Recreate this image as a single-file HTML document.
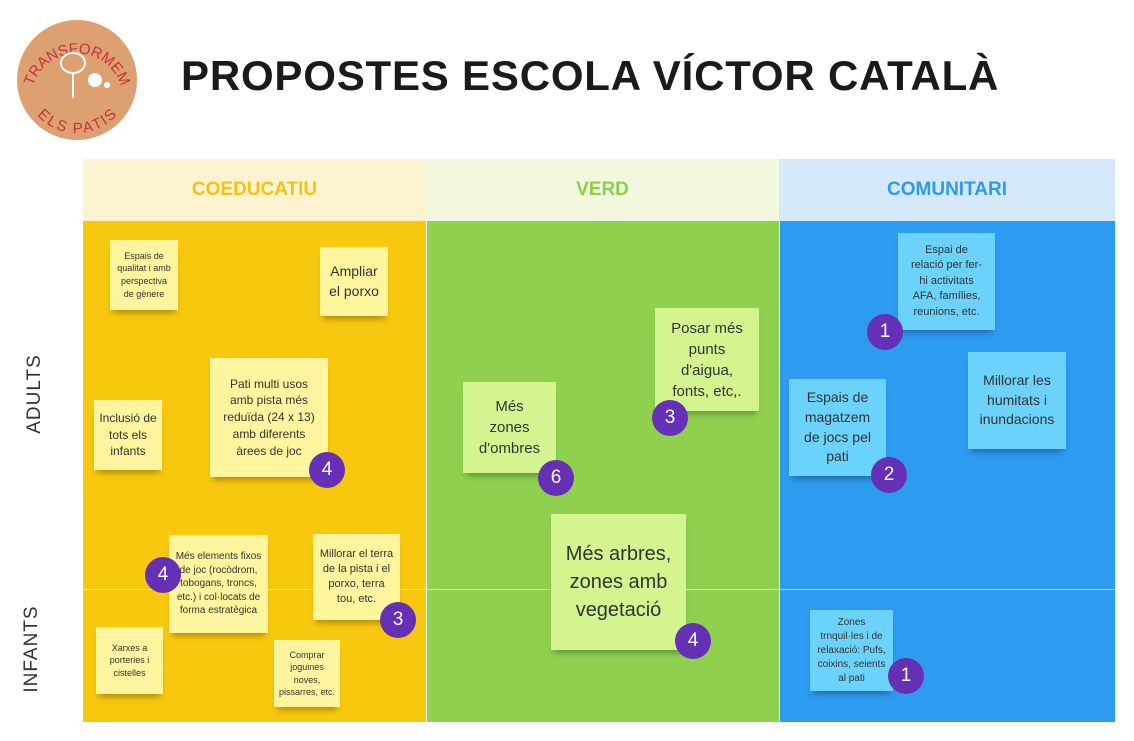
<!DOCTYPE html>
<html><head><meta charset="utf-8"><style>
*{margin:0;padding:0;box-sizing:border-box}
body{width:1134px;height:741px;background:#fff;position:relative;overflow:hidden;font-family:"Liberation Sans",sans-serif}
.a{position:absolute}
.h{position:absolute;top:159px;height:62px;display:flex;align-items:center;justify-content:center;font-weight:bold;font-size:19px}
.n{position:absolute;display:flex;align-items:center;justify-content:center;text-align:center;color:#333;line-height:1.4;box-shadow:0 6px 6px -3px rgba(0,0,0,.3);padding:4px 9px}
.y{background:#FEF59E}.g{background:#D4F48F}.b{background:#6BD3FB}
.c{position:absolute;width:36px;height:36px;border-radius:50%;background:#6530B6;color:#fff;font-size:19px;display:flex;align-items:center;justify-content:center}
.r{position:absolute;font-size:19px;color:#333;transform:rotate(-90deg);transform-origin:center;letter-spacing:1px}
</style></head><body>
<svg class="a" style="left:15px;top:18px" width="125" height="122"><circle cx="62" cy="62" r="60" fill="#DDA070"/>
<defs><path id="t" d="M17,72 A46,46 0 0 1 107,72"/><path id="b" d="M22,75 A42,42 0 0 0 102,75"/></defs>
<text font-size="15" fill="#C8323A" font-family="Liberation Sans"><textPath href="#t" startOffset="50%" text-anchor="middle">TRANSFORMEM</textPath></text>
<text font-size="15" fill="#C8323A" font-family="Liberation Sans" dy="11"><textPath href="#b" startOffset="50%" text-anchor="middle">ELS  PATIS</textPath></text>
<ellipse cx="58" cy="45" rx="12" ry="10" fill="none" stroke="#fff" stroke-width="2"/><line x1="58" y1="55" x2="58" y2="80" stroke="#fff" stroke-width="2"/><circle cx="80" cy="62" r="7" fill="#fff"/><circle cx="92" cy="67" r="3" fill="#fff"/></svg>
<div class="a" style="left:181px;top:52px;font-size:42px;font-weight:bold;color:#1a1a1a;letter-spacing:.8px">PROPOSTES ESCOLA VÍCTOR CATALÀ</div>
<div class="h" style="left:83px;width:343px;background:#FDF3D0;color:#F6C212">COEDUCATIU</div>
<div class="h" style="left:426px;width:353px;background:#F1F8DD;color:#8CCF4A">VERD</div>
<div class="h" style="left:779px;width:336px;background:#D5E9FA;color:#2D9BF0">COMUNITARI</div>
<div class="a" style="left:83px;top:221px;width:343px;height:501px;background:#F8C80F"></div>
<div class="a" style="left:427px;top:221px;width:352px;height:501px;background:#8FD14F"></div>
<div class="a" style="left:780px;top:221px;width:335px;height:501px;background:#2D9BF0"></div>
<div class="a" style="left:83px;top:589px;width:1032px;height:1px;background:rgba(255,255,255,.6)"></div>
<div class="r" style="left:-5px;top:383px;width:80px;text-align:center">ADULTS</div>
<div class="r" style="left:-13px;top:638px;width:90px;text-align:center">INFANTS</div>

<div class="n y" style="left:110px;top:240px;width:68px;height:70px;font-size:9px;padding:4px 6px">Espais de qualitat i amb perspectiva de gènere</div>
<div class="n y" style="left:320px;top:247px;width:68px;height:69px;font-size:14px;padding:4px">Ampliar el porxo</div>
<div class="n y" style="left:210px;top:358px;width:118px;height:119px;font-size:12px;padding:4px 12px">Pati multi usos amb pista més reduïda (24 x 13) amb diferents àrees de joc</div>
<div class="n y" style="left:94px;top:400px;width:68px;height:70px;font-size:12px;padding:4px">Inclusió de tots els infants</div>
<div class="n y" style="left:169px;top:535px;width:99px;height:98px;font-size:10px;padding:4px 5px;line-height:1.35">Més elements fixos de joc (rocòdrom, tobogans, troncs, etc.) i col·locats de forma estratègica</div>
<div class="n y" style="left:313px;top:534px;width:87px;height:86px;font-size:11px;padding:4px 6px;line-height:1.35">Millorar el terra de la pista i el porxo, terra tou, etc.</div>
<div class="n y" style="left:96px;top:627px;width:67px;height:67px;font-size:9px;padding:4px 8px">Xarxes a porteries i cistelles</div>
<div class="n y" style="left:274px;top:640px;width:66px;height:67px;font-size:9px;padding:4px 3px;line-height:1.35">Comprar joguines noves, pissarres, etc.</div>

<div class="n g" style="left:463px;top:382px;width:93px;height:91px;font-size:15px;padding:4px 20px">Més zones d'ombres</div>
<div class="n g" style="left:655px;top:308px;width:104px;height:103px;font-size:15px;padding:4px 12px">Posar més punts d'aigua, fonts, etc,.</div>
<div class="n g" style="left:551px;top:514px;width:135px;height:136px;font-size:20px">Més arbres, zones amb vegetació</div>

<div class="n b" style="left:898px;top:233px;width:97px;height:97px;font-size:11px;padding:4px 12px">Espai de relació per fer-hi activitats AFA, famílies, reunions, etc.</div>
<div class="n b" style="left:789px;top:379px;width:97px;height:97px;font-size:14px;padding:4px 8px">Espais de magatzem de jocs pel pati</div>
<div class="n b" style="left:968px;top:352px;width:98px;height:97px;font-size:14px;padding:4px 8px">Millorar les humitats i inundacions</div>
<div class="n b" style="left:810px;top:610px;width:83px;height:81px;font-size:10px;padding:4px 6px">Zones trnquil·les i de relaxació: Pufs, coixins, seients al pati</div>

<div class="c" style="left:309px;top:452px">4</div>
<div class="c" style="left:145px;top:557px">4</div>
<div class="c" style="left:380px;top:602px">3</div>
<div class="c" style="left:538px;top:460px">6</div>
<div class="c" style="left:652px;top:400px">3</div>
<div class="c" style="left:675px;top:623px">4</div>
<div class="c" style="left:867px;top:314px">1</div>
<div class="c" style="left:871px;top:457px">2</div>
<div class="c" style="left:888px;top:658px">1</div>
</body></html>
